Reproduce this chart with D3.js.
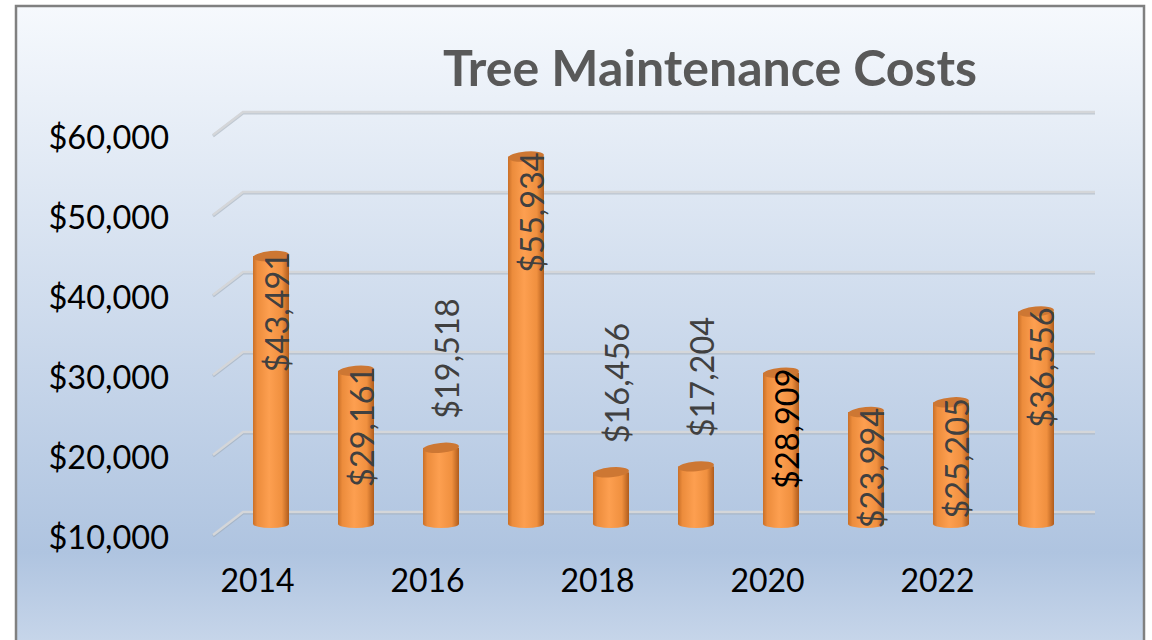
<!DOCTYPE html>
<html>
<head>
<meta charset="utf-8">
<script src="https://cdn.jsdelivr.net/npm/d3@7"></script>
<style>
  html, body { margin: 0; padding: 0; background: #fff; }
  svg { display: block; }
</style>
</head>
<body>
<div class="chart"></div>
<script>
// data
const years = [2014, 2015, 2016, 2017, 2018, 2019, 2020, 2021, 2022, 2023];
const costs = [43491, 29161, 19518, 55934, 16456, 17204, 28909, 23994, 25205, 36556];
const yTicks = [10000, 20000, 30000, 40000, 50000, 60000];
const xTickYears = [2014, 2016, 2018, 2020, 2022];
const title = "Tree Maintenance Costs";

const width = 1152, height = 640;
const font = "Lato, 'Open Sans', sans-serif";

const svg = d3.select(".chart")
  .append("svg")
  .attr("width", width)
  .attr("height", height);

const defs = svg.append("defs");

// background gradient
const bg = defs.append("linearGradient")
  .attr("id", "bg").attr("x1", 0).attr("y1", 0).attr("x2", 0).attr("y2", 1);
bg.append("stop").attr("offset", "0%").attr("stop-color", "#f6f9fd");
bg.append("stop").attr("offset", "84%").attr("stop-color", "#afc4e0");
bg.append("stop").attr("offset", "100%").attr("stop-color", "#cad8eb");

// cylinder shading
const cyl = defs.append("linearGradient")
  .attr("id", "cyl").attr("x1", 0).attr("y1", 0).attr("x2", 1).attr("y2", 0);
cyl.append("stop").attr("offset", "0%").attr("stop-color", "#c96f27");
cyl.append("stop").attr("offset", "12%").attr("stop-color", "#ec8c3c");
cyl.append("stop").attr("offset", "45%").attr("stop-color", "#fd9f50");
cyl.append("stop").attr("offset", "80%").attr("stop-color", "#f0903f");
cyl.append("stop").attr("offset", "100%").attr("stop-color", "#b05c1c");

svg.append("rect")
  .attr("x", 16).attr("y", 6)
  .attr("width", 1128).attr("height", 650)
  .attr("fill", "url(#bg)")
  .attr("stroke", "#808080")
  .attr("stroke-width", 2.5);

// scales
const x = d3.scalePoint().domain(years).range([271, 1036]);
const yBack = d3.scaleLinear().domain([10000, 60000]).range([512, 112]);
const yFront = d3.scaleLinear().domain([10000, 60000]).range([538, 138]);
const yBar = d3.scaleLinear().domain([10000, 60000]).range([524, 124]);
const depthX = 30, depthY = 23;

// title
svg.append("text")
  .attr("x", 710).attr("y", 86)
  .attr("text-anchor", "middle")
  .attr("font-family", font)
  .attr("font-weight", "bold")
  .attr("font-size", 50)
  .attr("fill", "#595959")
  .text(title);

// gridlines (side wall + back wall)
const grid = svg.append("g");
yTicks.forEach(function(t){
  const yb = yBack(t);
  const d = "M" + (243 - depthX) + "," + (yb + depthY) + "L243," + yb + "L1095," + yb;
  grid.append("path")
    .attr("d", d)
    .attr("fill", "none")
    .attr("stroke", "#9aa3ad")
    .attr("stroke-opacity", 0.5)
    .attr("stroke-width", 3)
    .attr("transform", "translate(0,1)");
  grid.append("path")
    .attr("d", d)
    .attr("fill", "none")
    .attr("stroke", "#d4d6d9")
    .attr("stroke-width", 2.5);
});

// y axis labels
const yAxis = d3.axisLeft(yFront)
  .tickValues(yTicks)
  .tickFormat(d3.format("$,"))
  .tickSize(0)
  .tickPadding(0);
svg.append("g")
  .attr("transform", "translate(169,0)")
  .call(yAxis)
  .call(g => g.select(".domain").remove())
  .selectAll("text")
  .attr("font-family", font)
  .attr("font-size", 32.5)
  .attr("fill", "#000");

// x axis labels (front edge of the floor, shifted by perspective)
const xAxis = d3.axisBottom(x)
  .tickValues(xTickYears)
  .tickFormat(d3.format("d"))
  .tickSize(0)
  .tickPadding(0);
svg.append("g")
  .attr("transform", "translate(-14,569)")
  .call(xAxis)
  .call(g => g.select(".domain").remove())
  .selectAll("text")
  .attr("font-family", font)
  .attr("font-size", 32)
  .attr("fill", "#000");

// cylinders
const rx = 18;
const bars = svg.selectAll(".bar")
  .data(years.map((yr, i) => ({ year: yr, value: costs[i] })))
  .enter()
  .append("g")
  .attr("class", "bar")
  .attr("transform", d => "translate(" + x(d.year) + ",0)");

bars.append("ellipse")
  .attr("cx", 0).attr("cy", yBar(10000))
  .attr("rx", rx).attr("ry", 4)
  .attr("fill", "url(#cyl)");

bars.append("rect")
  .attr("x", -rx).attr("width", rx * 2)
  .attr("y", d => yBar(d.value))
  .attr("height", d => yBar(10000) - yBar(d.value))
  .attr("fill", "url(#cyl)");

bars.append("ellipse")
  .attr("cx", 0).attr("cy", d => yBar(d.value))
  .attr("rx", rx).attr("ry", 5)
  .attr("transform", d => "rotate(-5,0," + yBar(d.value) + ")")
  .attr("fill", "#cd7733");

// data labels, rotated
const fmt = d3.format("$,");
const inside = d => (yBar(10000) - yBar(d.value)) > 90;
bars.append("text")
  .attr("transform", function(d){
    const top = yBar(d.value);
    const yy = inside(d) ? top + 56 : top - 29;
    return "translate(5," + yy + ") rotate(-90)";
  })
  .attr("text-anchor", d => inside(d) ? "middle" : "start")
  .attr("dominant-baseline", "central")
  .attr("font-family", font)
  .attr("font-size", 32.5)
  .attr("fill", d => d.year === 2020 ? "#000" : "#404040")
  .text(d => fmt(d.value));
</script>
</body>
</html>
